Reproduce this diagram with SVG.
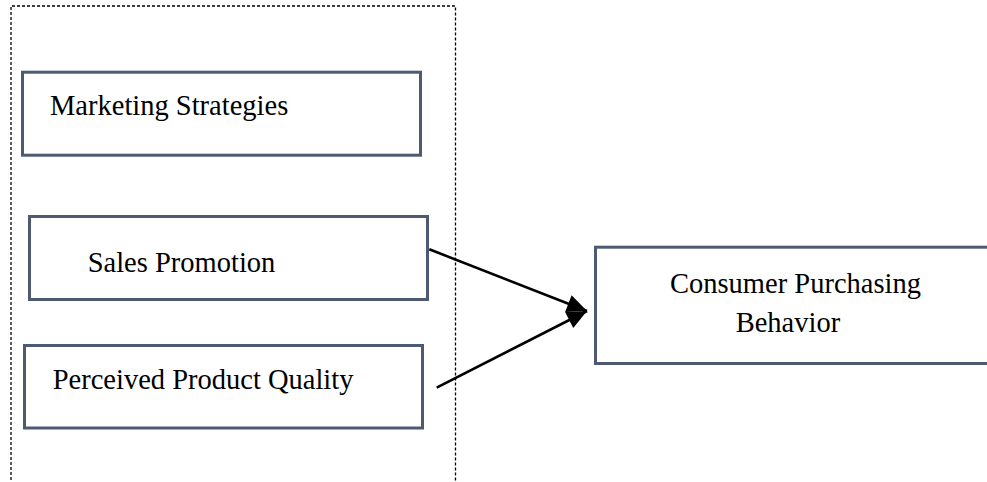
<svg xmlns="http://www.w3.org/2000/svg" width="987" height="482" viewBox="0 0 987 482">
  <style>
    .box { fill: #ffffff; stroke: #4d5a72; stroke-width: 3; }
    .lbl { font-family: "Liberation Serif", "Times New Roman", serif; font-size: 28.5px; fill: #000000; }
    .frame { fill: none; stroke: #000000; stroke-width: 1.3; stroke-dasharray: 3 2; }
    .conn { stroke: #000000; stroke-width: 2.6; fill: none; }
  </style>
  <defs>
    <marker id="arrow" markerUnits="userSpaceOnUse" markerWidth="22" markerHeight="20" refX="20" refY="9" orient="auto" overflow="visible">
      <path d="M0,0 L20,9 L0,18 z" fill="#000000"/>
    </marker>
  </defs>
  <rect width="987" height="482" fill="#ffffff"/>
  <g id="frame">
    <path class="frame" d="M11,490 L11,6 L455.5,6 L455.5,490"/>
  </g>
  <g id="marketing-strategies">
    <rect class="box" x="22.5" y="72.2" width="398" height="83"/>
    <text class="lbl" x="50" y="115">Marketing Strategies</text>
  </g>
  <g id="sales-promotion">
    <rect class="box" x="29.5" y="216.5" width="398" height="83"/>
    <text class="lbl" x="87.7" y="271.7">Sales Promotion</text>
  </g>
  <g id="perceived-product-quality">
    <rect class="box" x="24.5" y="345.5" width="398" height="82.5"/>
    <text class="lbl" x="52.7" y="389.3">Perceived Product Quality</text>
  </g>
  <g id="consumer-purchasing-behavior">
    <rect class="box" x="595.5" y="247.2" width="400" height="116.3"/>
    <text class="lbl" x="670" y="293">Consumer Purchasing</text>
    <text class="lbl" x="735.7" y="331.7">Behavior</text>
  </g>
  <g id="connectors">
    <line class="conn" x1="429.3" y1="249.3" x2="587" y2="311" marker-end="url(#arrow)"/>
    <line class="conn" x1="436.7" y1="387.7" x2="587" y2="311" marker-end="url(#arrow)"/>
  </g>
</svg>
